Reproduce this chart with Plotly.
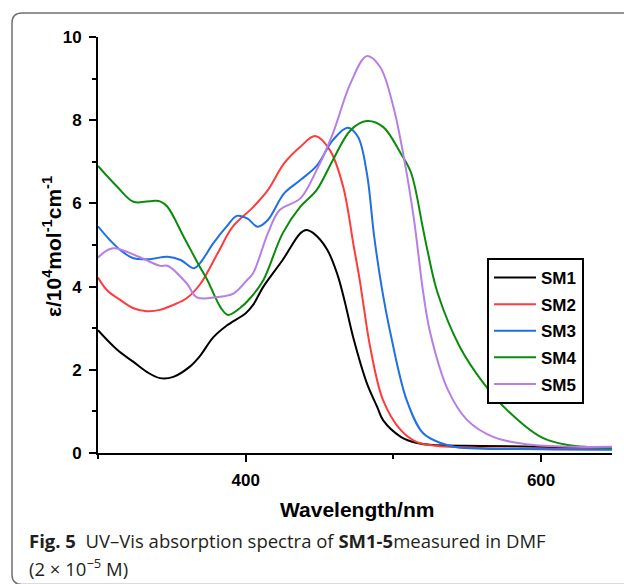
import plotly.graph_objects as go

# ---------------- data ----------------
sm1_x = [300, 313, 324, 333, 342, 351, 362, 369, 378, 387, 400, 405, 412, 425, 437, 441, 446, 455, 462, 467, 473, 482, 489, 493, 505, 516, 527, 560, 600, 648]
sm1_y = [2.95, 2.48, 2.19, 1.95, 1.80, 1.83, 2.07, 2.33, 2.78, 3.06, 3.36, 3.56, 4.0, 4.64, 5.28, 5.36, 5.28, 4.9, 4.3, 3.65, 2.75, 1.68, 1.11, 0.79, 0.39, 0.24, 0.19, 0.17, 0.15, 0.12]

sm2_x = [300, 306, 315, 324, 333, 342, 351, 360, 369, 381, 391, 405, 415, 426, 437, 447, 457, 466, 473, 477, 480, 484, 493, 505, 516, 527, 560, 600, 648]
sm2_y = [4.22, 3.92, 3.68, 3.48, 3.41, 3.44, 3.56, 3.72, 4.05, 4.8, 5.43, 5.91, 6.32, 6.96, 7.36, 7.62, 7.28, 6.4, 5.0, 4.2, 3.5, 2.6, 1.27, 0.55, 0.26, 0.18, 0.12, 0.10, 0.10]

sm3_x = [300, 308, 315, 324, 335, 347, 356, 365, 369, 378, 387, 394, 401, 408, 415, 426, 437, 448, 459, 469, 476, 482, 487, 492, 498, 509, 520, 532, 543, 600, 648]
sm3_y = [5.45, 5.12, 4.88, 4.68, 4.66, 4.72, 4.64, 4.44, 4.56, 5.04, 5.44, 5.7, 5.64, 5.44, 5.6, 6.24, 6.56, 6.9, 7.52, 7.82, 7.6, 6.73, 5.2, 4.0, 2.88, 1.27, 0.48, 0.24, 0.14, 0.09, 0.08]

sm4_x = [300, 313, 324, 337, 342, 347, 358, 369, 374, 383, 388, 396, 403, 412, 425, 437, 448, 459, 471, 482, 493, 505, 512, 520, 523, 530, 545, 561, 577, 600, 618, 648]
sm4_y = [6.9, 6.4, 6.04, 6.06, 6.05, 5.92, 5.2, 4.47, 4.16, 3.5, 3.32, 3.48, 3.72, 4.16, 5.28, 5.92, 6.32, 7.04, 7.76, 7.98, 7.84, 7.2, 6.73, 5.4, 4.88, 3.84, 2.55, 1.68, 1.03, 0.38, 0.19, 0.12]

sm5_x = [300, 310, 328, 342, 347, 360, 367, 381, 392, 401, 405, 415, 423, 437, 448, 459, 471, 482, 491, 500, 507, 514, 520, 525, 537, 550, 568, 595, 648]
sm5_y = [4.7, 4.92, 4.71, 4.5, 4.5, 4.08, 3.74, 3.75, 3.84, 4.16, 4.32, 5.28, 5.84, 6.12, 6.8, 7.68, 8.89, 9.54, 9.28, 8.32, 7.12, 5.6, 3.9, 2.88, 1.51, 0.79, 0.38, 0.19, 0.15]

series_names = ["SM1", "SM2", "SM3", "SM4", "SM5"]
series_x = [sm1_x, sm2_x, sm3_x, sm4_x, sm5_x]
series_y = [sm1_y, sm2_y, sm3_y, sm4_y, sm5_y]
colors = ["#000000", "#ff3b3b", "#1f6fe5", "#0a8c0a", "#b77ee6"]

y_ticks = [0, 2, 4, 6, 8, 10]
x_ticks = [400, 600]

# ---------------- layout geometry (pixels) ----------------
W, H = 624, 584
L, R, T, B = 98, 12, 37, 131
pw, ph = W - L - R, H - T - B


def px(x):
    return (x - L) / pw


def py(y):
    return (H - B - y) / ph


fig = go.Figure()
for i, (n, xs, ys, c) in enumerate(zip(series_names, series_x, series_y, colors)):
    fig.add_trace(go.Scatter(
        x=xs, y=ys, mode="lines", name=n, legendgroup=n,
        line=dict(color=c, width=2, shape="spline", smoothing=1.0),
    ))

SANS = "Liberation Sans"
axis_font = dict(family=SANS, size=17, color="black", weight="bold")

fig.update_layout(
    width=W, height=H,
    margin=dict(l=L, r=R, t=T, b=B),
    paper_bgcolor="white", plot_bgcolor="white",
    font=dict(family=SANS),
    showlegend=True,
    legend=dict(
        x=px(487), y=py(258), xanchor="left", yanchor="top",
        bordercolor="black", borderwidth=2, bgcolor="white",
        font=dict(family=SANS, size=17, color="black", weight="bold"),
        traceorder="grouped", tracegroupgap=1.5, itemwidth=42,
    ),
    xaxis=dict(
        range=[300, 648], tickvals=x_ticks, showgrid=False, zeroline=False,
        showline=True, linecolor="black", linewidth=2,
        ticks="outside", ticklen=7, tickwidth=2, tickcolor="black",
        tickfont=axis_font, ticklabelstandoff=4,
        minor=dict(dtick=100, tick0=300, ticks="outside", ticklen=4, tickwidth=2, tickcolor="black"),
    ),
    yaxis=dict(
        range=[0, 10], tickvals=y_ticks, showgrid=False, zeroline=False,
        showline=True, linecolor="black", linewidth=2,
        ticks="outside", ticklen=7, tickwidth=2, tickcolor="black",
        tickfont=axis_font, ticklabelstandoff=4,
        minor=dict(dtick=1, tick0=0, ticks="outside", ticklen=4, tickwidth=2, tickcolor="black"),
    ),
)

title_font = dict(family=SANS, size=21, color="black", weight="bold")
fig.add_annotation(text="Wavelength/nm", xref="paper", yref="paper",
                   x=px(357), y=py(509), xanchor="center", yanchor="middle",
                   showarrow=False, font=title_font)
fig.add_annotation(text="ε/10<sup>4</sup>mol<sup>-1</sup>cm<sup>-1</sup>", xref="paper", yref="paper",
                   x=px(52), y=py(247), xanchor="center", yanchor="middle", textangle=-90,
                   showarrow=False, font=title_font)

cap_font = dict(family="Open Sans", size=18.5, color="#231f20")
fig.add_annotation(text="<b>Fig. 5</b>\u00a0\u00a0UV–Vis absorption spectra of <b>SM1-5</b>measured in DMF",
                   xref="paper", yref="paper", x=px(27), y=py(540), xanchor="left", yanchor="middle",
                   showarrow=False, font=cap_font)
fig.add_annotation(text="(2 × 10<sup>−5</sup> M)",
                   xref="paper", yref="paper", x=px(27), y=py(567), xanchor="left", yanchor="middle",
                   showarrow=False, font=cap_font)

# rounded panel border (open on right/bottom, as cropped in the reference)
xl, xr = px(12), px(640)
yt, yb = py(13), py(584.5)
rx, ry = 10 / pw, 10 / ph
path = (f"M{xr},{yt} L{xl + rx},{yt} Q{xl},{yt} {xl},{yt - ry} "
        f"L{xl},{yb + ry} Q{xl},{yb} {xl + rx},{yb} L{xr},{yb}")
fig.add_shape(type="path", path=path, xref="paper", yref="paper",
              line=dict(color="#707070", width=1.5), layer="below")

fig.write_html("out.html", config={"displayModeBar": False},
               post_script="document.body.style.margin='0';document.body.style.overflow='hidden';")
